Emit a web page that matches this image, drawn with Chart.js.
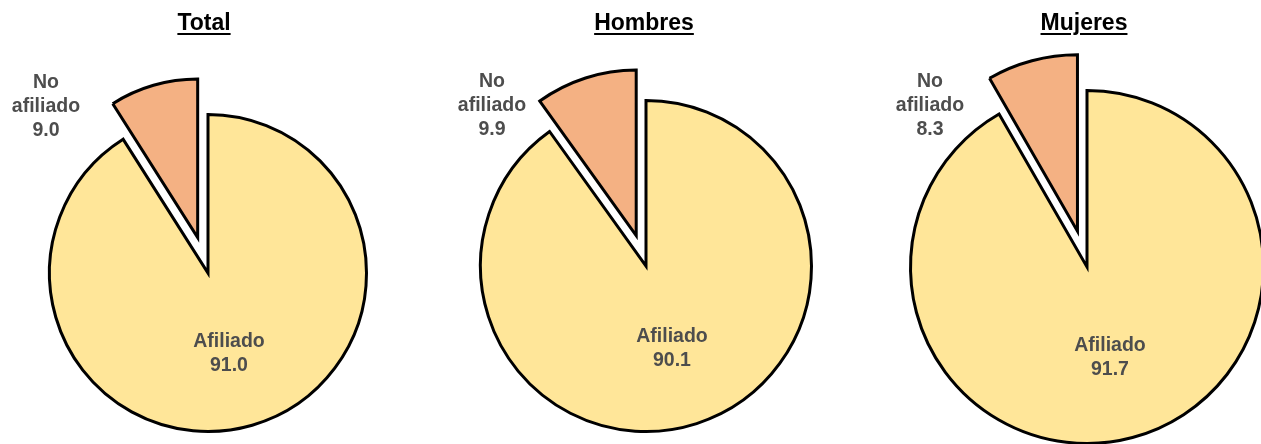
<!DOCTYPE html>
<html>
<head>
<meta charset="utf-8">
<script src="https://cdn.jsdelivr.net/npm/chart.js@4"></script>
<style>
  html, body { margin:0; padding:0; background:#fff; }
  body { width:1261px; height:444px; position:relative; overflow:hidden; font-family:"Liberation Sans", Arial, sans-serif; }
  canvas { position:absolute; }
  .title { position:absolute; width:200px; text-align:center; font-weight:bold; font-size:23px; line-height:28px; color:#000;
           text-decoration:underline; text-decoration-thickness:2px; text-underline-offset:3px; }
  .lbl { position:absolute; width:140px; text-align:center; font-weight:bold; font-size:19.5px; line-height:24px; color:#4d4d4d; }
</style>
</head>
<body>
<script>
// ---- data ----
const categories = ['Afiliado', 'No afiliado'];
const panelTitles = ['Total', 'Hombres', 'Mujeres'];
const totalValues = [91.0, 9.0];
const hombresValues = [90.1, 9.9];
const mujeresValues = [91.7, 8.3];
const seriesValues = [totalValues, hombresValues, mujeresValues];
const sliceColors = ['#FFE699', '#F4B183'];

// ---- layout (positions/sizes) ----
const layout = [
  { cx: 208, cy: 273, r: 158.5, explode: 37, titleX: 204, titleTop: 8,  noX: 46,  noTop: 69,  afX: 229, afTop: 328 },
  { cx: 646, cy: 266, r: 165.5, explode: 32, titleX: 644, titleTop: 8,  noX: 492, noTop: 68,  afX: 672, afTop: 323 },
  { cx: 1087, cy: 267, r: 176.5, explode: 37, titleX: 1084, titleTop: 8, noX: 930, noTop: 68, afX: 1110, afTop: 332 }
];
const bw = 3, pad = 30;

// Chart.js also enlarges/narrows an offset arc; keep exploded slice at the same radius and angle
const keepRadius = {
  id: 'keepRadius',
  afterDatasetsUpdate(chart) {
    chart.getSortedVisibleDatasetMetas().forEach(meta => {
      const base = meta.data[0].outerRadius;
      meta.data.forEach(arc => {
        const o = (arc.options && arc.options.offset) || 0;
        if (o) {
          const fix = 1 - Math.sin(Math.min(Math.PI, arc.circumference || 0));
          const radiusOffset = (o / 4) * fix;
          arc.outerRadius = base - radiusOffset;
          const d = radiusOffset / (Math.PI * base);
          arc.startAngle -= d / 2;
          arc.endAngle += d / 2;
        }
      });
    });
  }
};

function addDiv(cls, x, top, html) {
  const d = document.createElement('div');
  d.className = cls;
  d.innerHTML = html;
  document.body.appendChild(d);
  const w = cls === 'title' ? 200 : 140;
  d.style.left = (x - w / 2) + 'px';
  d.style.top = top + 'px';
  return d;
}

seriesValues.forEach((vals, i) => {
  const L = layout[i];
  const offsetOpt = L.explode * 4;   // Chart.js v4 translates arcs by offset/4
  const S = 2 * L.r + bw + offsetOpt;
  const size = Math.round(S + 2 * pad);
  const cv = document.createElement('canvas');
  cv.width = size; cv.height = size;
  cv.style.width = size + 'px'; cv.style.height = size + 'px';
  cv.style.left = (L.cx - size / 2) + 'px';
  cv.style.top = (L.cy - size / 2) + 'px';
  document.body.appendChild(cv);
  new Chart(cv.getContext('2d'), {
    type: 'pie',
    data: {
      labels: categories,
      datasets: [{
        data: vals,
        backgroundColor: sliceColors,
        borderColor: '#000',
        borderWidth: bw,
        borderJoinStyle: 'miter',
        offset: [0, offsetOpt],
        hoverOffset: 0
      }]
    },
    options: {
      responsive: false,
      animation: false,
      devicePixelRatio: 1,
      layout: { padding: (size - S) / 2 },
      plugins: { legend: { display: false }, tooltip: { enabled: false }, title: { display: false } },
      events: []
    },
    plugins: [keepRadius]
  });
  addDiv('title', L.titleX, L.titleTop, panelTitles[i]);
  const noParts = categories[1].split(' ');
  addDiv('lbl', L.noX, L.noTop, noParts[0] + '<br>' + noParts[1] + '<br>' + vals[1].toFixed(1));
  addDiv('lbl', L.afX, L.afTop, categories[0] + '<br>' + vals[0].toFixed(1));
});
</script>
</body>
</html>
